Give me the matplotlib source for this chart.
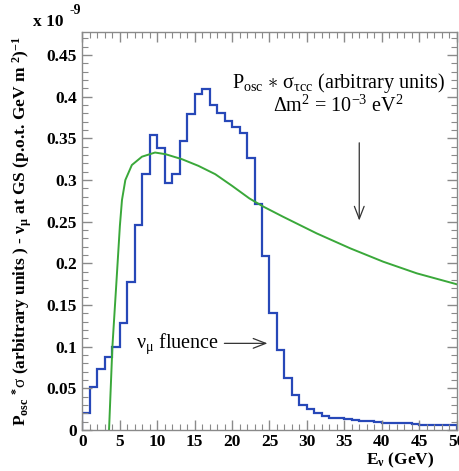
import numpy as np
import matplotlib
matplotlib.use("Agg")
import matplotlib.pyplot as plt
from matplotlib.ticker import MultipleLocator

plt.rcParams['font.family'] = ['Liberation Serif', 'DejaVu Serif']
plt.rcParams['mathtext.fontset'] = 'custom'
plt.rcParams['mathtext.rm'] = 'Liberation Serif'
plt.rcParams['mathtext.it'] = 'Liberation Serif'
plt.rcParams['mathtext.bf'] = 'Liberation Serif:bold'

# nu_mu fluence histogram, 1 GeV bins from 0 to 50 GeV (x 1e-9)
bin_edges = np.arange(0, 51, 1)
fluence = [0.020, 0.052, 0.073, 0.088, 0.100, 0.128, 0.178, 0.246, 0.307, 0.354,
           0.339, 0.297, 0.307, 0.347, 0.379, 0.403, 0.409, 0.390, 0.381, 0.371,
           0.364, 0.357, 0.327, 0.271, 0.209, 0.141, 0.096, 0.063, 0.042, 0.030,
           0.025, 0.020, 0.017, 0.015, 0.014, 0.013, 0.012, 0.011, 0.011, 0.010,
           0.009, 0.008, 0.008, 0.008, 0.007, 0.006, 0.006, 0.006, 0.006, 0.006]

# P_osc * sigma_tau_cc curve (arbitrary units)
curve_e = [3.55, 4.0, 4.5, 5.0, 5.28, 5.73, 6.6, 7.95, 9.7, 11.1, 13.3, 15.5,
           17.75, 20.0, 22.3, 24.2, 26.8, 31.3, 35.8, 40.2, 44.7, 50.0]
curve_v = [0.0, 0.100, 0.172, 0.245, 0.276, 0.300, 0.318, 0.328, 0.333, 0.331,
           0.325, 0.317, 0.307, 0.293, 0.278, 0.268, 0.256, 0.236, 0.218, 0.202,
           0.188, 0.175]

fig = plt.figure(figsize=(4.6, 4.71), dpi=100)
ax = fig.add_axes([0.1793, 0.087, 0.8131, 0.845])

ax.stairs(fluence, bin_edges, baseline=0, color='#2748b8', lw=1.6)
ax.plot(curve_e, curve_v, color='#3aa83a', lw=1.4)

ax.set_xlim(0, 50)
ax.set_ylim(0, 0.4776)

frame_col = '#8a8a8a'
for s in ax.spines.values():
    s.set_color(frame_col)
    s.set_linewidth(1.0)

ax.xaxis.set_major_locator(MultipleLocator(5))
ax.xaxis.set_minor_locator(MultipleLocator(1))
ax.yaxis.set_major_locator(MultipleLocator(0.05))
ax.yaxis.set_minor_locator(MultipleLocator(0.01))
ax.tick_params(which='both', direction='in', top=True, right=True, color=frame_col)
ax.tick_params(which='major', length=7, width=1.0)
ax.tick_params(which='minor', length=4, width=0.8)
ax.tick_params(axis='y', labelsize=12.5, pad=4)
ax.tick_params(axis='x', labelsize=12.5, pad=3)
ax.set_yticks(np.arange(0, 0.46, 0.05))
ax.set_yticklabels(['0', '0.05', '0.1', '0.15', '0.2', '0.25', '0.3', '0.35', '0.4', '0.45'])
ax.set_xticks(np.arange(0, 51, 5))
ax.set_xticklabels([str(v) for v in range(0, 51, 5)])
for lbl in ax.get_xticklabels() + ax.get_yticklabels():
    lbl.set_fontweight('bold')

ax.set_ylabel(r'$\mathbf{P_{osc}}$ $\mathbf{^{*}}$$\mathrm{\sigma}$ (arbitrary units ) - $\mathbf{\nu_{\mu}}$ at GS (p.o.t. GeV m $\mathbf{^{2})^{-1}}$',
              fontsize=12.5, fontweight='bold', labelpad=4)
ax.yaxis.set_label_coords(-0.13, 0.50)

fig.text(0.945, 0.014, r'E$_{\mathbf{\nu}}$ (GeV)', fontsize=12.5, fontweight='bold',
         ha='right', va='baseline')
fig.text(0.072, 0.953, 'x 10', fontsize=12.5, fontweight='bold', ha='left', va='center')
fig.text(0.152, 0.977, '-9', fontsize=10, fontweight='bold', ha='left', va='center')

ax.text(34.2, 0.416, r'P$_{\mathrm{osc}}$ $\ast$ σ$_{\mathrm{τcc}}$ (arbitrary units)',
        fontsize=14.5, ha='center', va='center')
ax.text(34.2, 0.388, r'Δm$^{\mathrm{2}}$ = 10$^{\mathrm{-3}}$ eV$^{\mathrm{2}}$',
        fontsize=14.5, ha='center', va='center')
ax.text(7.2, 0.103, r'ν$_{\mathrm{μ}}$ fluence', fontsize=14.5, ha='left', va='center')

ax.annotate('', xy=(37.0, 0.248), xytext=(37.0, 0.348),
            arrowprops=dict(arrowstyle='->,head_length=0.9,head_width=0.35', color='#333333', lw=0.9))
ax.annotate('', xy=(25.1, 0.104), xytext=(18.6, 0.104),
            arrowprops=dict(arrowstyle='->,head_length=0.9,head_width=0.35', color='#333333', lw=0.9))

fig.savefig('out.png', dpi=100)
